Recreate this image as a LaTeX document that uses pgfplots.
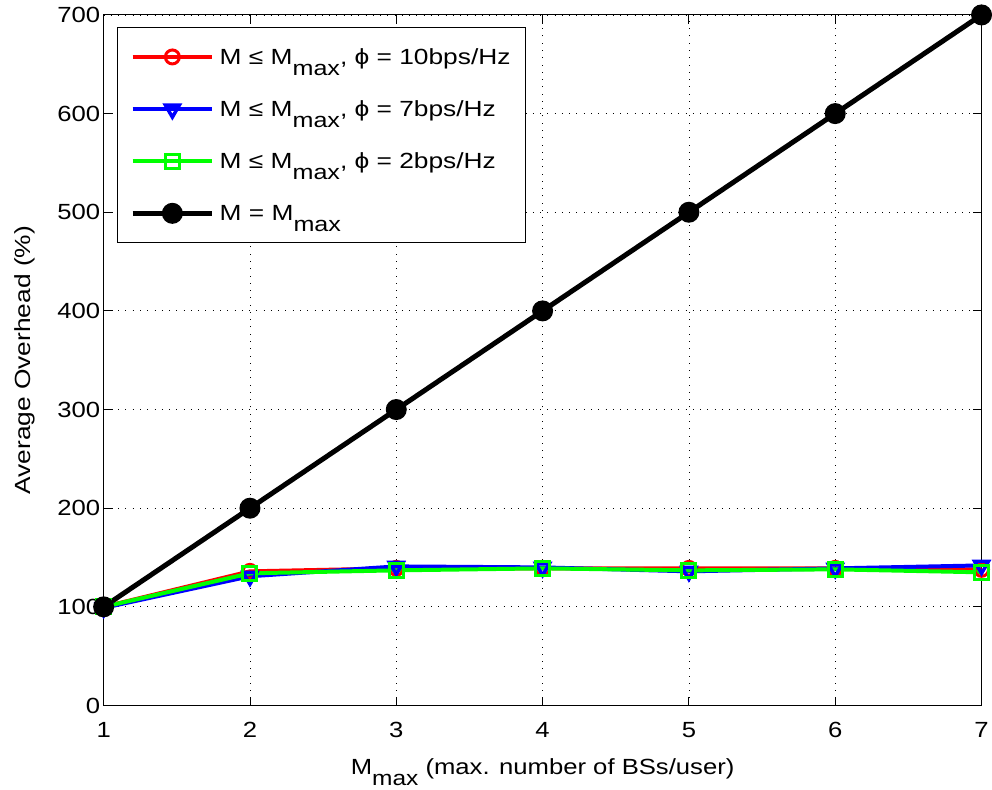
\documentclass[border=0pt]{standalone}
\usepackage{fontspec}
\setmainfont{Liberation Sans}
\usepackage{graphicx}
\usepackage{pgfplots}
\pgfplotsset{compat=1.18}
\newcommand{\sx}[1]{\scalebox{1.17}[1]{#1}}
\newcommand{\lx}[1]{\hspace{3pt}\scalebox{1.2}[1]{#1}}
\newcommand{\sub}[1]{\raisebox{-11pt}{\fontsize{21}{21}\selectfont #1}}
\pgfplotsset{
  mylegend/.style={legend image code/.code={\draw[mark repeat=2,mark phase=2] plot coordinates {(0pt,0pt)(40pt,0pt)(80pt,0pt)};}},
}
\begin{document}
\begin{tikzpicture}
\begin{axis}[
  width=881pt, height=693pt, scale only axis,
  xmin=1, xmax=7, ymin=0, ymax=700,
  xtick={1,...,7}, ytick={0,100,...,700},
  grid=major,
  major grid style={black, line width=0.8pt, dash pattern=on 0.8pt off 6.5pt},
  tick align=inside, tick pos=both, major tick length=9pt,
  axis line style={line width=0.9pt},
  tick style={line width=0.9pt, black},
  /pgf/number format/assume math mode=true,
  tick label style={font=\fontsize{22}{26}\selectfont},
  xticklabel={\sx{\pgfmathprintnumber{\tick}}},
  yticklabel={\sx{\pgfmathprintnumber{\tick}}},
  xticklabel style={yshift=-13pt},
  yticklabel style={xshift=0pt},
  label style={font=\fontsize{22}{26}\selectfont},
  xlabel={\sx{M\sub{max} (max. number of BSs/user)}},
  ylabel={\scalebox{1.2}[1]{Average Overhead (\%)}},
  xlabel style={yshift=-14pt},
  ylabel style={yshift=15pt},
  legend cell align=left,
  legend style={at={(0.0148,0.9827)}, anchor=north west, draw=black, line width=0.9pt,
    font=\fontsize{22}{26}\selectfont, row sep=31pt, inner xsep=13pt, inner ysep=19pt},
]
\addplot[red, line width=4pt, mark=o, mark size=7pt, mark options={line width=3pt}, mylegend]
  coordinates {(1,100)(2,136)(3,139)(4,139)(5,139)(6,139)(7,138)};
\addlegendentry{\lx{M ≤ M\sub{max}, ϕ = 10bps/Hz}}
\addplot[blue, line width=4pt, mark=triangle, mark size=8pt, mark options={rotate=180, line width=3.5pt}, mylegend]
  coordinates {(1,99)(2,131)(3,141)(4,140)(5,136)(6,139)(7,142)};
\addlegendentry{\lx{M ≤ M\sub{max}, ϕ = 7bps/Hz}}
\addplot[green, line width=4pt, mark=square, mark size=7pt, mark options={line width=3pt}, mylegend]
  coordinates {(1,100)(2,134)(3,137)(4,139)(5,137)(6,138)(7,135)};
\addlegendentry{\lx{M ≤ M\sub{max}, ϕ = 2bps/Hz}}
\addplot[black, line width=5pt, mark=*, mark size=8pt, mylegend]
  coordinates {(1,100)(2,200)(3,300)(4,400)(5,500)(6,600)(7,700)};
\addlegendentry{\lx{M = M\sub{max}}}
\end{axis}
\path (current axis.south west) ++(-104pt,-84pt);
\path (current axis.north east) ++(7pt,15pt);
\end{tikzpicture}
\end{document}
